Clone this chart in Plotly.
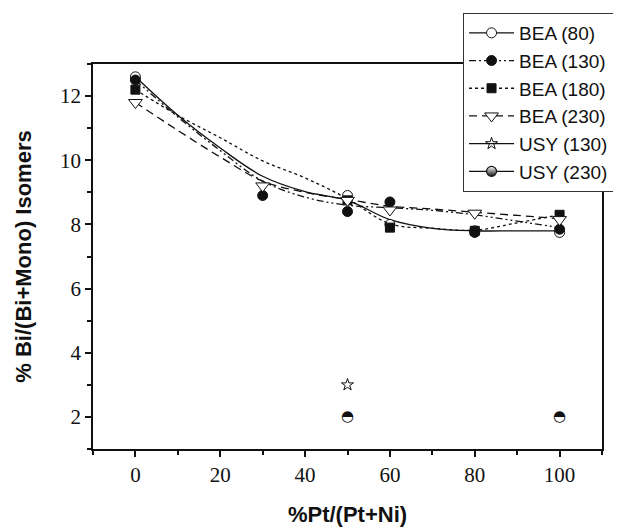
import plotly.graph_objects as go

# ---- measured data points ----
x_bea80 = [0, 50, 60, 80, 100]
y_bea80 = [12.6, 8.9, 8.0, 7.8, 7.75]
x_bea130 = [0, 30, 50, 60, 80, 100]
y_bea130 = [12.5, 8.9, 8.4, 8.7, 7.75, 7.85]
x_bea180 = [0, 50, 60, 80, 100]
y_bea180 = [12.2, 8.75, 7.9, 7.8, 8.3]
x_bea230 = [0, 30, 50, 60, 80, 100]
y_bea230 = [11.8, 9.2, 8.75, 8.45, 8.35, 8.15]
x_usy130 = [50]
y_usy130 = [3.0]
x_usy230 = [50, 100]
y_usy230 = [2.0, 2.0]

# ---- smoothed fit curves ----
x_fit = [0, 10, 20, 30, 40, 50, 60, 70, 80, 90, 100]
fit_bea80 = [12.6, 11.4, 10.38, 9.5, 9.02, 8.75, 8.15, 7.88, 7.8, 7.8, 7.8]
fit_bea130 = [12.5, 11.35, 10.3, 9.35, 8.85, 8.6, 8.52, 8.44, 8.3, 8.1, 7.9]
fit_bea180 = [12.2, 11.4, 10.7, 9.98, 9.45, 8.8, 8.02, 7.88, 7.82, 8.05, 8.3]
fit_bea230 = [11.8, 10.93, 10.1, 9.35, 9.0, 8.78, 8.57, 8.48, 8.38, 8.28, 8.18]

x_ticks = [0, 20, 40, 60, 80, 100]
y_ticks = [2, 4, 6, 8, 10, 12]

names = ["BEA (80)", "BEA (130)", "BEA (180)", "BEA (230)", "USY (130)", "USY (230)"]

BLACK = "#111111"
dash130 = "7px,3px,2px,3px,2px,3px"
dash180 = "3px,3px"
dash230 = "8px,5px"

fig = go.Figure()

series = [
    (x_bea80, y_bea80, fit_bea80, "solid", dict(symbol="circle", size=10, color="white", line=dict(color=BLACK, width=1))),
    (x_bea130, y_bea130, fit_bea130, dash130, dict(symbol="circle", size=10, color=BLACK, line=dict(color=BLACK, width=1))),
    (x_bea180, y_bea180, fit_bea180, dash180, dict(symbol="square", size=9, color=BLACK, line=dict(color=BLACK, width=1))),
    (x_bea230, y_bea230, fit_bea230, dash230, dict(symbol="triangle-down", size=12, color="white", line=dict(color=BLACK, width=1))),
]

for (xs, ys, fit, dash, mk), nm in zip(series, names[:4]):
    fig.add_trace(go.Scatter(x=x_fit, y=fit, mode="lines", line=dict(color=BLACK, width=1.3, dash=dash, shape="spline"),
                             showlegend=False, hoverinfo="skip"))
    fig.add_trace(go.Scatter(x=xs, y=ys, mode="markers", marker=mk, showlegend=False, name=nm))
    fig.add_trace(go.Scatter(x=[None], y=[None], mode="lines+markers", name=nm,
                             line=dict(color=BLACK, width=1.3, dash=dash), marker=mk))

mk_star = dict(symbol="star-open", size=9, color=BLACK, line=dict(color=BLACK, width=1))
mk_half = dict(symbol="circle", size=10, color="white", line=dict(color=BLACK, width=1.2),
               gradient=dict(type="vertical", color=BLACK))
fig.add_trace(go.Scatter(x=x_usy130, y=y_usy130, mode="markers", marker=mk_star, showlegend=False, name=names[4]))
fig.add_trace(go.Scatter(x=[None], y=[None], mode="lines+markers", name=names[4],
                         line=dict(color=BLACK, width=1.3), marker=mk_star))
# half-filled circle drawn as the glyph "◓" at each data point
fig.add_trace(go.Scatter(x=x_usy230, y=y_usy230, mode="text", text=["\u25D3"] * len(x_usy230),
                         textposition="middle center",
                         textfont=dict(family="DejaVu Sans", size=15, color=BLACK),
                         showlegend=False, name=names[5], hoverinfo="x+y"))
fig.add_trace(go.Scatter(x=[None], y=[None], mode="lines+markers", name=names[5],
                         line=dict(color=BLACK, width=1.3), marker=mk_half))

tickfont = dict(family="Liberation Serif", size=21, color=BLACK)
titlefont = dict(family="Liberation Sans", size=22, color=BLACK, weight="bold")

fig.update_layout(
    width=621, height=528,
    margin=dict(l=85, r=27, t=56, b=87, autoexpand=False),
    paper_bgcolor="white", plot_bgcolor="white",
    showlegend=True,
    legend=dict(x=0.727, y=1.1325, xanchor="left", yanchor="top",
                font=dict(family="Liberation Sans", size=19, color=BLACK),
                bordercolor="#333333", borderwidth=1, bgcolor="white",
                tracegroupgap=0, itemwidth=45),
    xaxis=dict(range=[-10, 110], tickvals=x_ticks, ticktext=[str(v) for v in x_ticks],
               ticks="outside", ticklen=6, tickwidth=1.5, tickcolor=BLACK,
               minor=dict(dtick=10, tick0=0, ticks="outside", ticklen=4, tickwidth=1.5, tickcolor=BLACK),
               showline=True, linecolor=BLACK, linewidth=1.5, mirror=True,
               showgrid=False, zeroline=False, tickfont=tickfont,
               title=dict(text="%Pt/(Pt+Ni)", font=titlefont, standoff=21)),
    yaxis=dict(range=[1, 13], tickvals=y_ticks, ticktext=[str(v) for v in y_ticks],
               ticks="outside", ticklen=6, tickwidth=1.5, tickcolor=BLACK,
               minor=dict(dtick=1, tick0=0, ticks="outside", ticklen=4, tickwidth=1.5, tickcolor=BLACK),
               showline=True, linecolor=BLACK, linewidth=1.5, mirror=True,
               showgrid=False, zeroline=False, tickfont=tickfont,
               title=dict(text="% Bi/(Bi+Mono) Isomers", font=titlefont, standoff=22)),
    xaxis2=dict(overlaying="x", matches="x", side="top", anchor="y", range=[-10, 110],
                tickvals=x_ticks, showticklabels=False, ticks="inside", ticklen=6, tickwidth=1.5, tickcolor=BLACK,
                minor=dict(dtick=10, tick0=0, ticks="inside", ticklen=4, tickwidth=1.5, tickcolor=BLACK),
                showgrid=False, zeroline=False, showline=False),
    yaxis2=dict(overlaying="y", matches="y", side="right", anchor="x", range=[1, 13],
                tickvals=y_ticks, showticklabels=False, ticks="inside", ticklen=6, tickwidth=1.5, tickcolor=BLACK,
                minor=dict(dtick=1, tick0=0, ticks="inside", ticklen=4, tickwidth=1.5, tickcolor=BLACK),
                showgrid=False, zeroline=False, showline=False),
)

fig.write_html("out.html")
